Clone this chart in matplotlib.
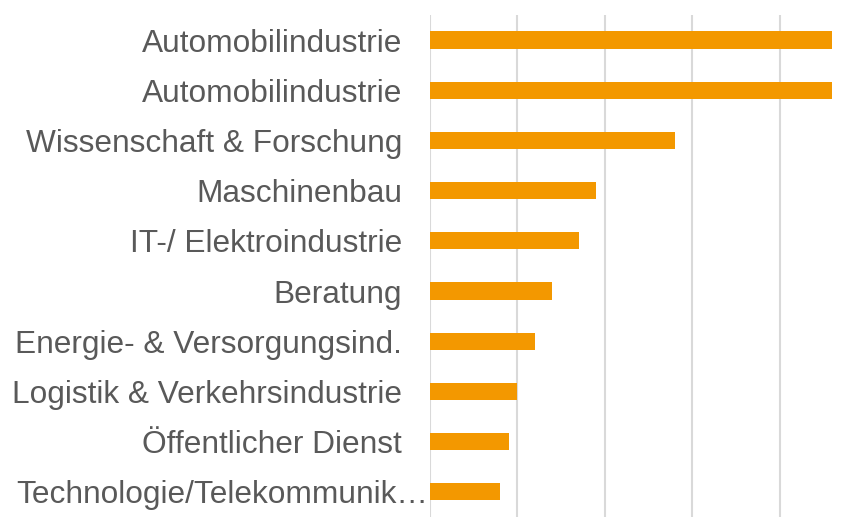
import matplotlib.pyplot as plt
from matplotlib.transforms import ScaledTranslation

categories = ['Automobilindustrie', 'Automobilindustrie', 'Wissenschaft & Forschung',
              'Maschinenbau', 'IT-/ Elektroindustrie', 'Beratung',
              'Energie- & Versorgungsind.', 'Logistik & Verkehrsindustrie',
              'Öffentlicher Dienst', 'Technologie/Telekommunik…']
values = [46, 46, 28, 19, 17, 14, 12, 10, 9, 8]
grid_ticks = [0, 10, 20, 30, 40]

plt.rcParams['font.family'] = ['Liberation Sans', 'DejaVu Sans']

fig = plt.figure(figsize=(8.61, 5.24), dpi=100)
ax = fig.add_axes([0.4994, 0.0135, 0.4669, 0.958])

y = list(range(len(categories)))
ax.barh(y, values, height=0.34, color='#F39800', zorder=3)
ax.set_yticks(y)
ax.set_yticklabels(categories, fontsize=22.8, color='#595959')
ax.tick_params(axis='y', length=0, pad=20)
ax.set_ylim(len(categories) - 0.5, -0.5)
ax.set_xlim(0, 46)
ax.set_xticks(grid_ticks)
ax.tick_params(axis='x', length=0, labelbottom=False)
ax.grid(axis='x', color='#D9D9D9', linewidth=1.5, zorder=0)
for s in ax.spines.values():
    s.set_visible(False)

# the truncated last label runs right up to the axis, like in the original
last = ax.get_yticklabels()[-1]
last.set_transform(last.get_transform() + ScaledTranslation(19 / 72, 0, fig.dpi_scale_trans))

fig.savefig('out.png', dpi=100)
